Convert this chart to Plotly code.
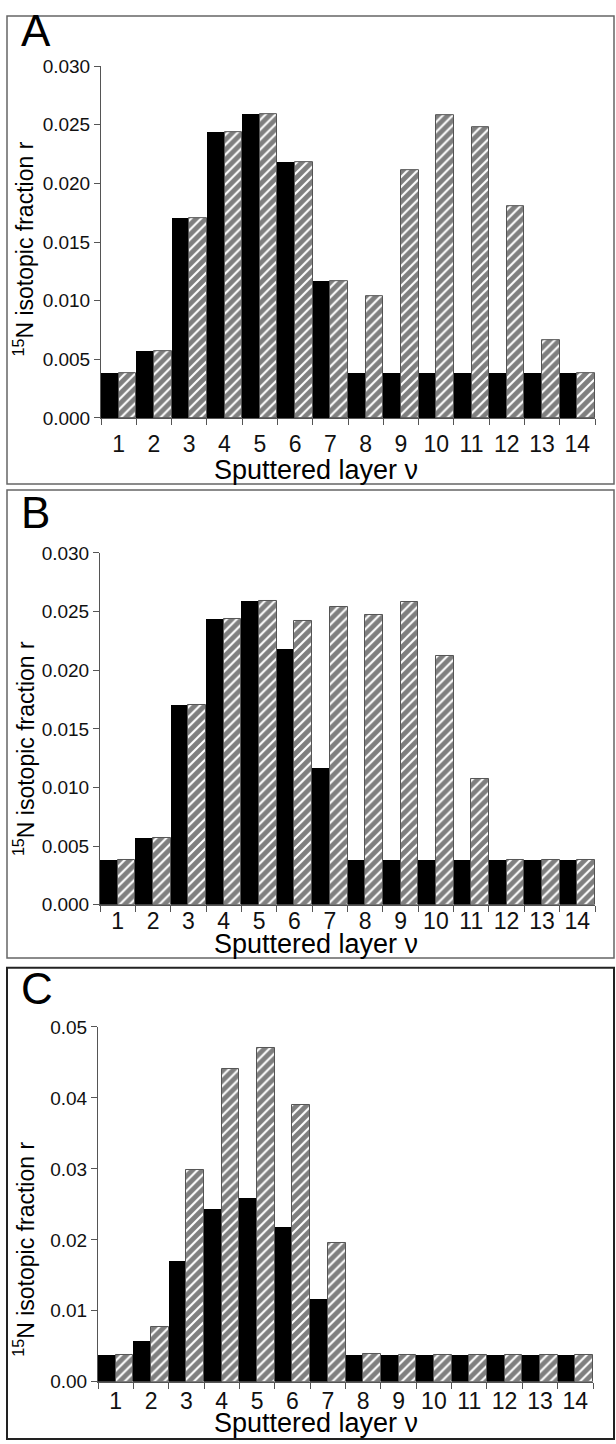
import plotly.graph_objects as go

layers = [str(i) for i in range(1, 15)]

black_vals = [0.0038, 0.0057, 0.0170, 0.0244, 0.0259, 0.0218, 0.0117,
              0.0038, 0.0038, 0.0038, 0.0038, 0.0038, 0.0038, 0.0038]

hatch_A = [0.0038, 0.0057, 0.0170, 0.0244, 0.0259, 0.0218, 0.0117,
           0.0104, 0.0211, 0.0258, 0.0248, 0.0181, 0.0066, 0.0038]

hatch_B = [0.0038, 0.0057, 0.0170, 0.0244, 0.0259, 0.0242, 0.0254,
           0.0247, 0.0258, 0.0212, 0.0107, 0.0038, 0.0038, 0.0038]

hatch_C = [0.0038, 0.0077, 0.0298, 0.0441, 0.0471, 0.0390, 0.0195,
           0.0039, 0.0038, 0.0038, 0.0038, 0.0038, 0.0038, 0.0038]

panel_labels = ["A", "B", "C"]
x_title = "Sputtered layer ν"
y_title = "<sup>15</sup>N isotopic fraction r"

W, H = 616, 1444
FONT = "Liberation Sans, Arial, sans-serif"

# pixel geometry of the three panels
panels = [
    dict(x0=101, x1=595, ytop=57, ybot=414, frame=(7, 6, 614, 481), rng=[0, 0.030], dtick=0.005, fmt=".3f",
         hatch=hatch_A, ytitle_c=243, xlab_y=467, lab_y=21, standoff=5),
    dict(x0=100, x1=595, ytop=551, ybot=908, frame=(7, 487, 614, 962), rng=[0, 0.030], dtick=0.005, fmt=".3f",
         hatch=hatch_B, ytitle_c=750, xlab_y=948, lab_y=510, standoff=-4),
    dict(x0=98, x1=593, ytop=1032, ybot=1392, frame=(7, 972, 614, 1450), rng=[0, 0.05], dtick=0.01, fmt=".2f",
         hatch=hatch_C, ytitle_c=1258, xlab_y=1434, lab_y=993, standoff=-1),
]

fig = go.Figure()
shapes = []
annotations = []

for i, p in enumerate(panels):
    n = i + 1
    xa = "x" if n == 1 else f"x{n}"
    ya = "y" if n == 1 else f"y{n}"
    fig.add_trace(go.Bar(x=layers, y=black_vals, xaxis=xa, yaxis=ya,
                         marker=dict(color="black", line=dict(width=0)),
                         showlegend=False))
    fig.add_trace(go.Bar(x=layers, y=p["hatch"], xaxis=xa, yaxis=ya,
                         marker=dict(color="white",
                                     pattern=dict(shape="/", fgcolor="black", bgcolor="white",
                                                  size=7, solidity=0.7),
                                     line=dict(color="#555555", width=1)),
                         showlegend=False))
    xkey = "xaxis" if n == 1 else f"xaxis{n}"
    ykey = "yaxis" if n == 1 else f"yaxis{n}"
    fig.update_layout(**{
        xkey: dict(domain=[p["x0"] / W, p["x1"] / W], anchor=ya, type="category",
                   tickson="boundaries", ticks="outside", ticklen=6, tickcolor="#555",
                   ticklabelstandoff=p["standoff"],
                   showline=True, linecolor="#555", linewidth=1, showgrid=False,
                   zeroline=False, tickfont=dict(size=23, color="#111", family=FONT)),
        ykey: dict(domain=[1 - p["ybot"] / H, 1 - p["ytop"] / H], anchor=xa,
                   range=p["rng"], dtick=p["dtick"], tick0=0, tickformat=p["fmt"],
                   ticks="outside", ticklen=6, tickcolor="#555", showline=True,
                   linecolor="#555", linewidth=1, showgrid=False, zeroline=False,
                   tickfont=dict(size=19, color="#111", family=FONT)),
    })
    fx0, fy0, fx1, fy1 = p["frame"]
    shapes.append(dict(type="rect", xref="paper", yref="paper",
                       x0=fx0 / W, x1=fx1 / W, y0=1 - fy1 / H, y1=1 - fy0 / H,
                       line=dict(color="#666" if n < 3 else "#222", width=1.5 if n < 3 else 2),
                       fillcolor="rgba(0,0,0,0)", layer="below"))
    annotations.append(dict(text=panel_labels[i], xref="paper", yref="paper",
                            x=19 / W, y=1 - p["lab_y"] / H, xanchor="left", yanchor="middle",
                            showarrow=False, font=dict(size=44, color="black", family=FONT)))
    annotations.append(dict(text=y_title, xref="paper", yref="paper", textangle=-90,
                            x=24 / W, y=1 - p["ytitle_c"] / H, xanchor="center", yanchor="middle",
                            showarrow=False, font=dict(size=23, color="black", family=FONT)))
    annotations.append(dict(text=x_title, xref="paper", yref="paper",
                            x=316 / W, y=1 - p["xlab_y"] / H,
                            xanchor="center", yanchor="middle",
                            showarrow=False, font=dict(size=27, color="black", family=FONT)))

fig.update_layout(width=W, height=H, margin=dict(l=0, r=0, t=0, b=0),
                  paper_bgcolor="white", plot_bgcolor="white",
                  barmode="group", bargap=0, bargroupgap=0,
                  shapes=shapes, annotations=annotations,
                  font=dict(family=FONT))

fig.write_html("out.html")
